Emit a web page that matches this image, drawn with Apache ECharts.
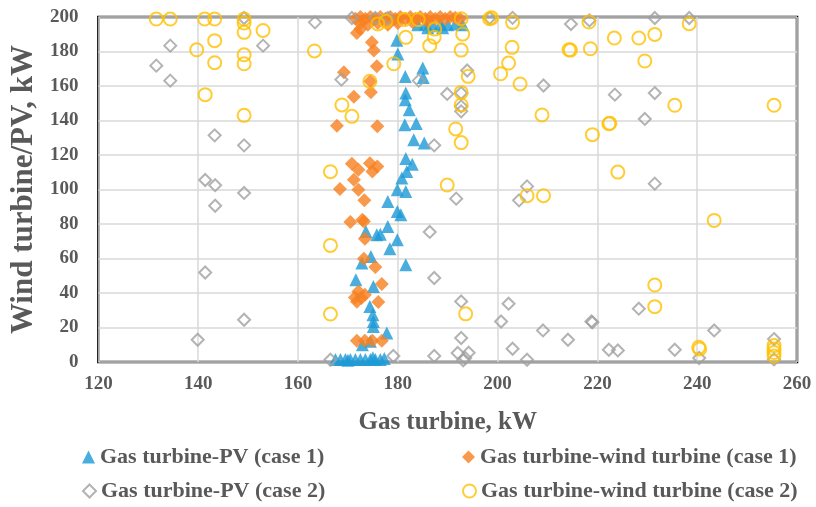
<!DOCTYPE html>
<html>
<head>
<meta charset="utf-8">
<script src="https://cdn.jsdelivr.net/npm/echarts@6/dist/echarts.min.js"></script>
<style>
html,body{margin:0;padding:0;background:#fff;}
#chart{width:816px;height:507px;}
</style>
</head>
<body>
<div id="chart"></div>
<script>
const seriesNames = [
  "Gas turbine-PV (case 1)",
  "Gas turbine-wind turbine (case 1)",
  "Gas turbine-PV (case 2)",
  "Gas turbine-wind turbine (case 2)"
];
const xTicks = [120, 140, 160, 180, 200, 220, 240, 260];
const yTicks = [0, 20, 40, 60, 80, 100, 120, 140, 160, 180, 200];

const pvCase1 = [
  [184,195.5],[185.5,196],[187,195],[188.5,196],[190,195.5],[191.5,196],[193,195.5],[186,193.8],[189,193.8],
  [179.8,186.5],[180,178.5],[181.5,165.5],[185,170.5],[185.1,165],[181.6,156],[181.5,152],[182.3,146.3],
  [181.4,137.6],[183.7,138.3],[183.2,128.9],[185.3,127],[181.6,118],[182.9,114.6],[181.8,110.5],[180.8,106.7],
  [179.9,99.9],[181.6,98.9],[178,93.1],[179.9,87.3],[180.6,85.4],[178,78.6],[173.6,75.7],[175.8,73.8],[176.5,74],
  [179.9,70.9],[178.4,65.6],[181.6,56.4],[174.6,61.2],[172.8,57.4],[171.6,47.7],[175.1,43.8],[174.4,32.2],
  [175,27.4],[175.1,23.5],[175.1,20.6],[177.8,16.8],[172.9,10],[174.5,12],
  [167.5,1.5],[168.5,1.5],[169.5,1.5],[170.5,1.5],[171.5,1.5],[172.5,1.5],[173.5,1.5],[174.5,1.5],
  [175.5,1.5],[176.5,1.5],[177.3,2],[170,1],[175,2.5]
];
const windCase1 = [
  [171.5,199],[172.5,200],[173.5,199],[174.5,200],[175.5,199],[176.5,200],[177.5,199],[178.5,200],
  [179.5,199],[180.5,200],[181.5,199],[182.5,200],[183.5,199],[184.5,200],[185.5,199],[186.5,200],
  [187.5,199],[188.5,200],[189.5,199],[190.5,200],[191.5,199.5],[192.5,199],
  [172.5,196.5],[174,195.5],[176,196.5],[178,195.5],[180,196.5],[183,197],[186,197.5],
  [171.8,190.7],[172.5,193],[174.8,185.4],[175.2,180.6],[175.8,171.4],[169.2,168],[174.5,162.7],
  [174.6,156.4],[171.2,153.8],[167.8,137],[175.9,136.6],[170.8,115],[172.1,111.5],[174.4,115.2],
  [175.9,113.4],[174.9,110.5],[171.2,105.7],[168.4,100.3],[172.1,99.9],[173.3,93.7],[170.5,81.2],
  [172.9,82.5],[173.2,81.5],[173.4,71.5],[173.2,59.9],[175.5,55.1],[176.8,45.2],[172.1,40.9],
  [171.4,37.4],[172.7,37.1],[173.4,39],[171.8,35],[176.1,34.8],[171.8,12.3],[173.4,12.3],
  [174.9,12.3],[176.8,12.3]
];
const pvCase2 = [
  [149.2,199.4],[134.4,183.4],[153,183.4],[131.6,171.8],[134.4,163.1],[163.4,196.9],[143.3,131.4],
  [149.2,125.6],[141.4,105.5],[143.4,102.5],[149.2,98],[143.4,90.6],[141.4,51.9],[149.2,24.5],[139.9,12.9],
  [170.8,199.4],[175.5,199.5],[178,199.5],[168.7,163.7],[184.2,163.1],[193.9,169],[189.9,155.4],
  [192.7,155.9],[192.7,148.2],[192.7,145.3],[187.3,125.6],[205.9,101.8],[204.3,93.7],[191.7,94.7],
  [186.4,75.4],[187.3,48.7],[192.7,35.1],[200.7,23.5],[202.2,33.8],[209.1,18.3],[214.1,12.9],[203,7.7],
  [205.9,1.3],[218.8,23.5],[219,23],[222.3,7.1],[224.1,6.7],[228.3,30.9],[235.5,7.1],[243.4,18.3],
  [240.4,2.3],[255.4,13.3],[255.4,1.5],[192.7,13.9],[192,5.2],[193.5,2.3],[194.2,5.4],[193.1,1],
  [166.5,1.3],[179.1,3.5],[187.3,3.5],
  [198.4,199.4],[203,199.5],[214.7,195.9],[218.4,198],[231.5,199.4],[238.4,199.4],[209.2,160.3],
  [223.5,155],[231.5,155.9],[229.5,140.9],[231.5,103.4]
];
const windCase2 = [
  [131.6,198.8],[134.4,198.8],[141.3,198.8],[143.3,198.8],[149.2,198.8],[149.2,196.5],[149.2,191.1],
  [153,192.2],[143.3,186.3],[139.7,181],[149.2,178.1],[143.3,173.5],[149.2,172.9],[163.3,180.3],
  [141.4,155],[149.2,143],
  [176,196],[177.6,197.5],[181.3,198.5],[184.1,198.5],[192.7,199],[187.4,193],[187.3,188.3],[186.4,183.4],
  [181.6,188.2],[193,190.1],[192.7,180.8],[179.2,172.9],[174.4,162.7],[194.1,165.6],[192.7,156.3],
  [192.7,149],[168.8,149],[170.8,142.4],[191.6,135.1],[192.7,127.2],[166.5,110.3],[189.9,102.6],
  [198.4,199],[198.8,199.5],[203,196.9],[202.9,182.4],[202.2,173.3],[200.6,167.1],[204.5,161.2],[208.9,143.2],
  [218.3,197.1],[223.4,187.8],[228.3,187.8],[231.5,189.9],[238.4,196.1],[214.3,181],[214.6,180.8],
  [218.6,181.6],[229.5,174.5],[235.5,148.8],[255.4,148.8],[222.3,138.1],[222.5,138.4],[219,131.8],[224.1,110.1],
  [166.5,67.6],[166.5,27.8],[193.6,27.9],[205.9,96.4],[209.2,96.4],[243.4,82.1],[231.5,44.6],[231.5,32.1],
  [240.3,8.5],[240.5,7.5],[255.4,3.5],[255.4,5.5],[255.4,7.5],[255.4,9.5]
];

const FONT = "'Liberation Serif', 'Times New Roman', serif";
const TXT = '#595959';

const chart = echarts.init(document.getElementById('chart'), null, {renderer: 'canvas'});

const legendText = {fontFamily: FONT, fontWeight: 'bold', fontSize: 22, color: TXT};
function lg(name, left, top) {
  return {data: [name], left: left, top: top, itemWidth: 13, itemHeight: 13, itemGap: 0,
          padding: 0, textStyle: legendText, selectedMode: false};
}

chart.setOption({
  animation: false,
  backgroundColor: '#fff',
  grid: {left: 95, right: 19, top: 17, bottom: 145, show: true, borderColor: '#000', borderWidth: 2.5, containLabel: false},
  legend: [
    lg(seriesNames[0], 82, 446),
    lg(seriesNames[1], 462, 446),
    lg(seriesNames[2], 82, 480),
    lg(seriesNames[3], 462, 480)
  ],
  xAxis: {
    type: 'value', min: xTicks[0], max: xTicks[xTicks.length - 1], interval: 20,
    name: 'Gas turbine, kW', nameLocation: 'middle', nameGap: 48,
    nameTextStyle: {fontFamily: FONT, fontWeight: 'bold', fontSize: 25, color: TXT},
    axisLine: {show: false}, axisTick: {show: false},
    axisLabel: {fontFamily: FONT, fontWeight: 'bold', fontSize: 19, color: TXT, margin: 13},
    splitLine: {show: true, lineStyle: {color: '#D9D9D9', width: 1.5}}
  },
  yAxis: {
    type: 'value', min: yTicks[0], max: yTicks[yTicks.length - 1], interval: 20,
    name: 'Wind turbine/PV, kW', nameLocation: 'middle', nameGap: 58,
    nameTextStyle: {fontFamily: FONT, fontWeight: 'bold', fontSize: 31, color: TXT},
    axisLine: {show: false}, axisTick: {show: false},
    axisLabel: {fontFamily: FONT, fontWeight: 'bold', fontSize: 19, color: TXT, margin: 20},
    splitLine: {show: true, lineStyle: {color: '#D9D9D9', width: 1.5}}
  },
  series: [
    {name: seriesNames[0], type: 'scatter', data: pvCase1, symbol: 'triangle', symbolSize: 13,
     itemStyle: {color: '#1C9AD6'}},
    {name: seriesNames[1], type: 'scatter', data: windCase1, symbol: 'diamond', symbolSize: 14,
     itemStyle: {color: '#F8801F'}},
    {name: seriesNames[2], type: 'scatter', data: pvCase2, symbol: 'diamond', symbolSize: 12,
     itemStyle: {color: 'rgba(0,0,0,0)', borderColor: '#A0A0A0', borderWidth: 2}},
    {name: seriesNames[3], type: 'scatter', data: windCase2, symbol: 'circle', symbolSize: 13,
     itemStyle: {color: 'rgba(0,0,0,0)', borderColor: '#FFC000', borderWidth: 2}}
  ]
});
</script>
</body>
</html>
